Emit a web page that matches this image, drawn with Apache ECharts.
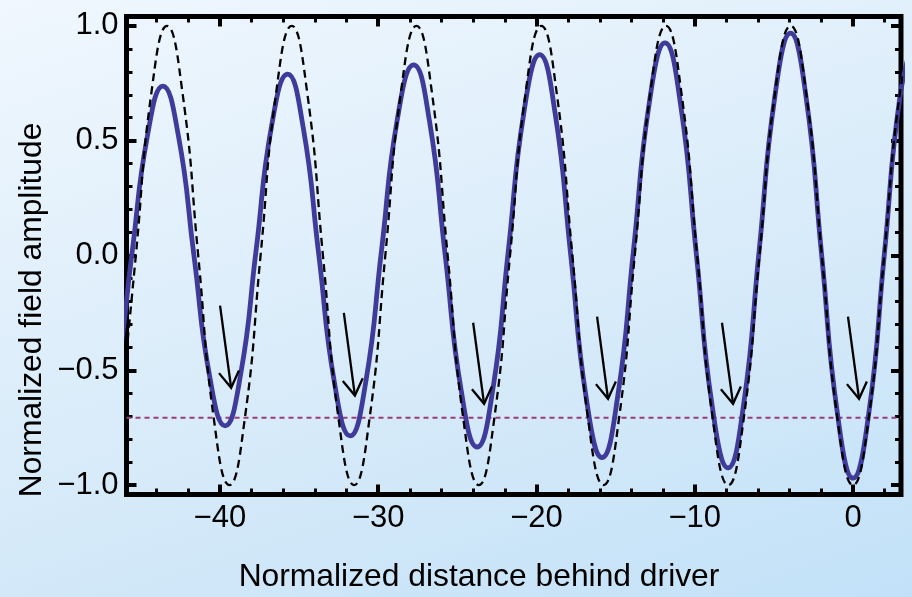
<!DOCTYPE html>
<html><head><meta charset="utf-8">
<script src="https://cdn.jsdelivr.net/npm/echarts@6/dist/echarts.min.js"></script>
<style>html,body{margin:0;padding:0;}#c{width:912px;height:597px;background:linear-gradient(162deg,#f0f7fe 0%,#d8ebf9 55%,#c2e1f8 100%);}</style>
</head><body><div id="c"></div>
<script>
// ---- axis ticks ----
const xTicksMajor = [-40, -30, -20, -10, 0];
const xTicksMinor = [-44, -42, -38, -36, -34, -32, -28, -26, -24, -22, -18, -16, -14, -12, -8, -6, -4, -2, 2];
const yTicksMajor = [-1, -0.5, 0, 0.5, 1];
const yTicksMinor = [-0.9, -0.8, -0.7, -0.6, -0.4, -0.3, -0.2, -0.1, 0.1, 0.2, 0.3, 0.4, 0.6, 0.7, 0.8, 0.9];

// ---- unloaded wake (dashed) ----
const dashX = [-46.30, -45.31, -44.33, -43.34, -42.36, -41.37, -40.39, -39.40, -38.42, -37.43, -36.45, -35.46,
  -34.48, -33.49, -32.51, -31.52, -30.54, -29.55, -28.57, -27.58, -26.60, -25.61, -24.63, -23.64,
  -22.66, -21.67, -20.69, -19.70, -18.72, -17.73, -16.75, -15.76, -14.78, -13.79, -12.81, -11.82,
  -10.84, -9.85, -8.87, -7.88, -6.90, -5.91, -4.93, -3.94, -2.96, -1.97, -0.99, 0, 0.99, 1.97, 2.96, 3.94];
const dashY = [-0.707, 0, 0.707, 1, 0.707, 0, -0.707, -1, -0.707, 0, 0.707, 1,
  0.707, 0, -0.707, -1, -0.707, 0, 0.707, 1, 0.707, 0, -0.707, -1,
  -0.707, 0, 0.707, 1, 0.707, 0, -0.707, -1, -0.707, 0, 0.707, 1,
  0.707, 0, -0.707, -1, -0.707, 0, 0.707, 1, 0.707, 0, -0.707, -1, -0.707, 0, 0.707, 1];

// ---- loaded wake (solid blue) ----
const loadX = [-47.53, -46.55, -45.57, -44.58, -43.60, -42.62, -41.64, -40.65, -39.67, -38.69, -37.71, -36.73,
  -35.72, -34.74, -33.75, -32.76, -31.77, -30.78, -29.79, -28.79, -27.76, -26.76, -25.76, -24.75,
  -23.75, -22.76, -21.78, -20.79, -19.80, -18.82, -17.83, -16.85, -15.86, -14.87, -13.87, -12.88,
  -11.88, -10.89, -9.89, -8.90, -7.90, -6.91, -5.93, -4.94, -3.95, -2.96, -1.98, -0.99, 0, 0.99, 1.97, 2.96, 3.94];
const loadY = [-0.73, -0.516, 0.0, 0.52, 0.738, 0.521, 0.0, -0.525, -0.742, -0.518, 0.024, 0.566,
  0.79, 0.559, 0.002, -0.555, -0.786, -0.549, 0.022, 0.593, 0.83, 0.586, -0.002, -0.590,
  -0.834, -0.585, 0.02, 0.625, 0.875, 0.619, -0.002, -0.623, -0.88, -0.615, 0.023, 0.661,
  0.926, 0.655, 0.0, -0.655, -0.925, -0.648, 0.022, 0.692, 0.969, 0.686, 0.0, -0.686, -0.97, -0.69, 0.0, 0.69, 0.97];

// ---- threshold level (dotted) ----
const thresholdLevel = -0.707;

// ---- arrows (start -> tip) ----
const arrowX0 = [-39.99, -32.17, -24.00, -16.17, -8.28, -0.32];
const arrowY0 = [-0.218, -0.250, -0.293, -0.266, -0.293, -0.266];
const arrowX1 = [-39.29, -31.47, -23.31, -15.48, -7.58, 0.38];
const arrowY1 = [-0.576, -0.610, -0.646, -0.624, -0.646, -0.624];

const xMin = -45.9, xMax = 3.03, yMin = -1.041, yMax = 1.041;
const FONT = '"Liberation Sans", Arial, Helvetica, sans-serif';

function fmtX(v){ return (v < 0 ? '\u2212' : '') + Math.abs(v); }
function fmtY(v){ return (v < 0 ? '\u2212' : '') + Math.abs(v).toFixed(1); }

function xAx(pos, ticks, len, w, withLabels){
  return {type:'value', min:xMin, max:xMax, position:pos,
    axisLine:{show:false, onZero:false},
    axisTick:{show:true, inside:true, length:len, customValues:ticks, lineStyle:{color:'#000', width:w}},
    axisLabel: withLabels ? {show:true, customValues:xTicksMajor, formatter:fmtX, color:'#000', fontSize:31, fontFamily:FONT, margin:8} : {show:false},
    splitLine:{show:false}};
}
function yAx(pos, ticks, len, w, withLabels){
  return {type:'value', min:yMin, max:yMax, position:pos,
    axisLine:{show:false, onZero:false},
    axisTick:{show:true, inside:true, length:len, customValues:ticks, lineStyle:{color:'#000', width:w}},
    axisLabel: withLabels ? {show:true, customValues:yTicksMajor, formatter:fmtY, color:'#000', fontSize:31, fontFamily:FONT, margin:8} : {show:false},
    splitLine:{show:false}};
}

const chart = echarts.init(document.getElementById('c'), null, {renderer:'canvas'});
chart.setOption({
  backgroundColor:'transparent',
  animation:false,
  grid:{left:126.5, right:11, top:16.5, bottom:102.5, show:true, borderColor:'#000', borderWidth:5, backgroundColor:'transparent'},
  xAxis:[
    xAx('bottom', xTicksMajor, 10, 4, true),
    xAx('bottom', xTicksMinor, 6, 3, false),
    xAx('top', xTicksMajor, 10, 4, false),
    xAx('top', xTicksMinor, 6, 3, false)
  ],
  yAxis:[
    yAx('left', yTicksMajor, 10, 4, true),
    yAx('left', yTicksMinor, 6, 3, false),
    yAx('right', yTicksMajor, 10, 4, false),
    yAx('right', yTicksMinor, 6, 3, false)
  ],
  graphic:[
    {type:'text', x:479, y:577, style:{text:'Normalized distance behind driver', font:'31.8px ' + FONT, fill:'#000', align:'center', verticalAlign:'middle', textAlign:'center', textVerticalAlign:'middle'}},
    {type:'text', x:32, y:310, rotation:Math.PI/2, style:{text:'Normalized field amplitude', font:'31.8px ' + FONT, fill:'#000', align:'center', verticalAlign:'middle', textAlign:'center', textVerticalAlign:'middle'}}
  ],
  series:[
    {type:'line', z:1, silent:true, symbol:'none', clip:true,
      data:[[xMin, thresholdLevel],[xMax, thresholdLevel]],
      lineStyle:{color:'#9b3b78', width:2, type:[5,4]}},
    {type:'line', z:2, silent:true, symbol:'none', smooth:true, clip:true,
      data: loadX.map((x,i)=>[x, loadY[i]]),
      lineStyle:{color:'#3f3b9b', width:4.8}},
    {type:'line', z:3, silent:true, symbol:'none', smooth:true, clip:true,
      data: dashX.map((x,i)=>[x, dashY[i]]),
      lineStyle:{color:'#000', width:2.3, type:[8,5]}},
    {type:'custom', z:4, silent:true, clip:false,
      data: arrowX0.map((x,i)=>[x, arrowY0[i], arrowX1[i], arrowY1[i]]),
      encode:{x:[0,2], y:[1,3]},
      renderItem:function(params, api){
        const p0 = api.coord([api.value(0), api.value(1)]);
        const p1 = api.coord([api.value(2), api.value(3)]);
        const dx = p0[0]-p1[0], dy = p0[1]-p1[1];
        const L = Math.hypot(dx, dy), ux = dx/L, uy = dy/L;
        const a = 32*Math.PI/180, hl = 19;
        const c = Math.cos(a), s = Math.sin(a);
        const r1 = [ux*c - uy*s, ux*s + uy*c];
        const r2 = [ux*c + uy*s, -ux*s + uy*c];
        return {type:'group', children:[
          {type:'line', shape:{x1:p0[0], y1:p0[1], x2:p1[0], y2:p1[1]}, style:{stroke:'#000', lineWidth:2.3}},
          {type:'polyline', shape:{points:[[p1[0]+r1[0]*hl, p1[1]+r1[1]*hl], p1, [p1[0]+r2[0]*hl, p1[1]+r2[1]*hl]]}, style:{stroke:'#000', fill:null, lineWidth:2.3, lineJoin:'miter'}}
        ]};
      }}
  ]
});
</script></body></html>
